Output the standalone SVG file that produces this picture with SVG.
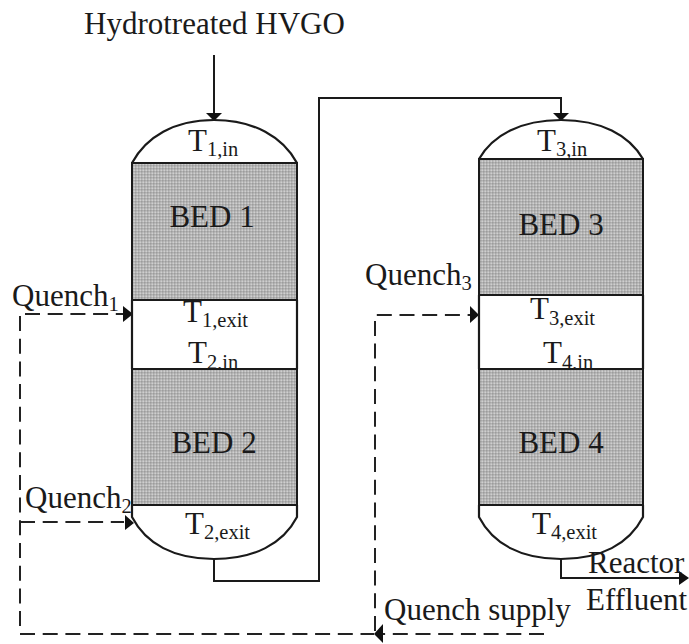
<svg xmlns="http://www.w3.org/2000/svg" width="689" height="644" viewBox="0 0 689 644">
<style>
text{font-family:"Liberation Serif","Times New Roman",serif;font-size:31px;fill:#1a1a1a}
.s{font-size:20.5px}
.sh{fill:none;stroke:#1a1a1a;stroke-width:2.2}
.bed{fill:url(#dots);stroke:#1a1a1a;stroke-width:2}
.ln{fill:none;stroke:#1a1a1a;stroke-width:2}
.da{fill:none;stroke:#222;stroke-width:2;stroke-dasharray:15 7.7}
.ah{fill:#111}
</style>
<defs>
<pattern id="dots" width="3" height="3" patternUnits="userSpaceOnUse">
<rect width="3" height="3" fill="#b2b2b2"/>
<rect x="0" y="0" width="1.5" height="1.5" fill="#9c9c9c"/>
<rect x="1.5" y="1.5" width="1.5" height="1.5" fill="#cfcfcf"/>
</pattern>
</defs>
<g id="connectors">
<path class="ln" d="M214 55V114"/>
<path class="ah" d="M206 113H222L214 121Z"/>
<path class="ln" d="M214 559V581H319V98H561V114"/>
<path class="ah" d="M553 113H569L561 121Z"/>
<path class="ln" d="M561 559V578H680"/>
<path class="ah" d="M679 571L689 578L679 585Z"/>
<path class="da" d="M25 314H124"/>
<path class="ah" d="M123 306L133 314L123 322Z"/>
<path class="da" d="M20 316V626"/>
<path class="da" d="M20 634H374"/>
<path class="da" d="M20 522H124"/>
<path class="ah" d="M125 515L134 523L125 530Z"/>
<path class="da" d="M544 634H376"/>
<path class="ah" d="M383 624L374 634L383 643Z"/>
<path class="da" d="M375 631V315H470"/>
<path class="ah" d="M470 306L479 315L470 323Z"/>
</g>
<g id="reactor-1">
<path class="sh" d="M132 163C146 137 174 120 214 120C254 120 283 137 297 163"/>
<path class="sh" d="M132 300V369M297 300V369"/>
<path class="sh" d="M132 505V517C146 544 174 559 214 559C254 559 283 544 297 517V505"/>
</g>
<g id="reactor-2">
<path class="sh" d="M479 159C493 135 521 120 561 120C601 120 629 135 643 159"/>
<path class="sh" d="M479 295V369M643 295V369"/>
<path class="sh" d="M479 505V517C493 544 521 559 561 559C601 559 629 544 643 517V505"/>
</g>
<g id="labels-behind">
<text x="188" y="363">T<tspan class="s" dy="6">2,in</tspan></text>
<text x="543" y="363">T<tspan class="s" dy="6">4,in</tspan></text>
</g>
<g id="bed-1"><rect class="bed" x="132" y="163" width="165" height="137"/><text x="212" y="227" text-anchor="middle">BED 1</text></g>
<g id="bed-2"><rect class="bed" x="132" y="369" width="165" height="136"/><text x="214" y="453" text-anchor="middle">BED 2</text></g>
<g id="bed-3"><rect class="bed" x="479" y="159" width="164" height="136"/><text x="561" y="235" text-anchor="middle">BED 3</text></g>
<g id="bed-4"><rect class="bed" x="479" y="369" width="164" height="136"/><text x="561" y="453" text-anchor="middle">BED 4</text></g>
<g id="labels">
<text x="84" y="34">Hydrotreated HVGO</text>
<text x="188" y="151">T<tspan class="s" dy="5">1,in</tspan></text>
<text x="537" y="151">T<tspan class="s" dy="5">3,in</tspan></text>
<text x="183" y="322">T<tspan class="s" dy="5">1,exit</tspan></text>
<text x="530" y="319">T<tspan class="s" dy="6">3,exit</tspan></text>
<text x="185" y="534">T<tspan class="s" dy="5">2,exit</tspan></text>
<text x="532" y="534">T<tspan class="s" dy="5">4,exit</tspan></text>
<text x="12" y="306">Quench<tspan class="s" dy="5">1</tspan></text>
<text x="25" y="508">Quench<tspan class="s" dy="5">2</tspan></text>
<text x="365" y="285">Quench<tspan class="s" dy="5">3</tspan></text>
<text x="384" y="620">Quench supply</text>
<text x="588" y="573">Reactor</text>
<text x="586" y="610">Effluent</text>
</g>
</svg>
